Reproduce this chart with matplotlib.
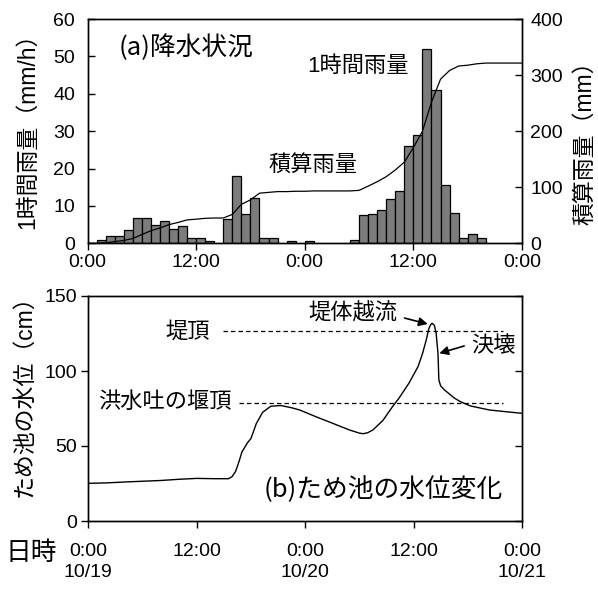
import numpy as np
import matplotlib
matplotlib.use("Agg")
import matplotlib.pyplot as plt

plt.rcParams['font.family'] = ['Liberation Sans', 'Noto Sans CJK JP']
plt.rcParams['axes.linewidth'] = 1.0

# Hourly rainfall (mm/h), one value per hour from 10/19 0:00 to 10/21 0:00
rain_hours = np.arange(48)
rain_mm_h = [0, 1.0, 2.0, 2.0, 3.6, 6.9, 6.9, 4.9, 6.0, 3.9, 4.5, 1.3,
             1.5, 0.6, 0, 6.4, 18.0, 7.9, 12.0, 1.4, 1.4, 0, 0.6, 0,
             0.6, 0, 0, 0, 0, 1.0, 7.5, 7.9, 9.0, 11.9, 14.0, 25.9,
             29.1, 52.0, 41.0, 15.5, 8.0, 1.4, 2.5, 1.3, 0, 0, 0, 0]

# Pond water level (cm) against elapsed hours
level_hours = [0, 2, 4, 6, 8, 10, 12, 14, 15.5, 15.9, 16.3, 16.7, 17.0,
               17.6, 18.0, 18.6, 19.3, 20.2, 21.3, 22.5, 23.4, 25.2, 27.1,
               28.9, 30.0, 30.4, 30.9, 31.5, 32.6, 33.7, 34.4, 35.5, 36.5,
               37.0, 37.4, 37.7, 37.9, 38.05, 38.3, 38.5, 38.7, 38.8, 39.0,
               39.4, 40.0, 40.5, 41.2, 42.3, 44.4, 47.3, 48]
level_cm = [25.1, 25.4, 26.0, 26.5, 27.0, 27.8, 28.4, 28.2, 28.2, 29.5,
            33.0, 40.0, 46.0, 52.0, 55.0, 65.0, 72.5, 76.5, 77.0, 75.5,
            74.0, 69.5, 65.0, 60.7, 58.6, 58.2, 58.8, 60.7, 67.0, 76.5,
            82.0, 92.0, 103.0, 111.8, 120.7, 128.4, 131.0, 131.8, 130.5,
            125.0, 111.8, 94.0, 90.0, 87.5, 84.5, 82.0, 79.5, 76.7, 74.0,
            72.2, 71.8]

crest_level = 127        # 堤頂
spillway_level = 78.5    # 洪水吐の堰頂

time_ticks = [0, 12, 24, 36, 48]
top_tick_labels = ["0:00", "12:00", "0:00", "12:00", "0:00"]
bottom_tick_labels = ["0:00\n10/19", "12:00", "0:00\n10/20", "12:00", "0:00\n10/21"]

W, H = 598, 589
fig = plt.figure(figsize=(W / 100, H / 100), dpi=100)

def fx(px):
    return px / W

def fy(py):
    return 1 - py / H

FS_TICK = 14
FS_TEXT = 16
FS_TITLE = 18.5
FS_LABEL = 16.5
CJK = ['Noto Sans CJK JP', 'DejaVu Sans']

# ---------- (a) rainfall ----------
ax1 = fig.add_axes([fx(87.5), fy(243.3), fx(522) - fx(87.5), fy(19) - fy(243.3)])
rain_arr = np.array(rain_mm_h)
mask = rain_arr > 0
ax1.bar(rain_hours[mask] + 0.5, rain_arr[mask], width=1.0, color='#7c7c7c',
        edgecolor='black', linewidth=0.9, zorder=2)
ax1.set_xlim(0, 48)
ax1.set_ylim(0, 60)
ax1.set_yticks(np.arange(0, 61, 10))
ax1.set_xticks(time_ticks)
ax1.set_xticklabels(top_tick_labels)
ax1.tick_params(axis='y', direction='in', length=5, width=1, pad=9, labelsize=FS_TICK)
ax1.tick_params(axis='x', direction='out', length=5, width=1, pad=3, labelsize=FS_TICK)

ax1r = ax1.twinx()
cum = np.concatenate([[0], np.cumsum(rain_arr)])
ax1r.plot(np.arange(49), cum, color='black', linewidth=0.9, zorder=3)
ax1r.set_ylim(0, 400)
ax1r.set_yticks(np.arange(0, 401, 100))
ax1r.tick_params(axis='y', direction='in', length=5, width=1, pad=6, labelsize=FS_TICK)

ax1.text(10.9, 52.3, "(a)降水状況", fontsize=FS_TITLE, family=CJK,
         ha='center', va='center')
ax1.text(29.9, 47.4, "1時間雨量", fontsize=FS_TEXT, ha='center', va='center')
ax1.text(24.9, 20.9, "積算雨量", fontsize=FS_TEXT, ha='center', va='center')

fig.text(fx(28), fy(125), "1時間雨量（mm/h）", rotation=90, fontsize=FS_LABEL,
         ha='center', va='center')
fig.text(fx(585), fy(137), "積算雨量（mm）", rotation=90, fontsize=FS_LABEL,
         ha='center', va='center')

# ---------- (b) pond water level ----------
ax2 = fig.add_axes([fx(88.3), fy(521), fx(522) - fx(88.3), fy(296) - fy(521)])
ax2.plot(level_hours, level_cm, color='black', linewidth=1.0, zorder=3)
ax2.hlines(crest_level, 14.9, 45.9, colors='black', linestyles=(0, (3.5, 2.5)), linewidth=0.9)
ax2.hlines(spillway_level, 16.7, 45.9, colors='black', linestyles=(0, (3.5, 2.5)), linewidth=0.9)
ax2.set_xlim(0, 48)
ax2.set_ylim(0, 150)
ax2.set_yticks([0, 50, 100, 150])
ax2.set_xticks(time_ticks)
ax2.set_xticklabels(bottom_tick_labels, linespacing=1.3)
ax2.tick_params(axis='y', direction='out', length=5, width=1, pad=3, labelsize=FS_TICK)
ax2.tick_params(axis='x', direction='out', length=5, width=1, pad=11, labelsize=FS_TICK)

ax2r = ax2.twinx()
ax2r.set_ylim(0, 150)
ax2r.set_yticks([0, 50, 100, 150])
ax2r.tick_params(axis='y', direction='in', length=5, width=1, labelright=False)

ax2.text(13.45, 126.2, "堤頂", fontsize=FS_TEXT, ha='right', va='center')
ax2.text(15.85, 78.7, "洪水吐の堰頂", fontsize=FS_TEXT, ha='right', va='center')
ax2.text(32.6, 20.7, "(b)ため池の水位変化", fontsize=FS_TITLE, family=CJK,
         ha='center', va='center')

arrow_style = dict(arrowstyle='-|>', color='black', linewidth=1.2,
                   mutation_scale=13, shrinkA=0, shrinkB=0)
ax2.text(34.2, 138, "堤体越流", fontsize=FS_TEXT, ha='right', va='center')
ax2.annotate("", xy=(37.57, 131.3), xytext=(35.0, 135.3), arrowprops=arrow_style)
ax2.text(42.4, 116.2, "決壊", fontsize=FS_TEXT, ha='left', va='center')
ax2.annotate("", xy=(38.85, 111.8), xytext=(41.6, 116.7), arrowprops=arrow_style)

fig.text(fx(31), fy(553), "日時", fontsize=FS_LABEL + 2, ha='center', va='center')
fig.text(fx(24), fy(390), "ため池の水位（cm）", rotation=90, fontsize=FS_LABEL,
         ha='center', va='center')

fig.savefig("out.png", dpi=100)
